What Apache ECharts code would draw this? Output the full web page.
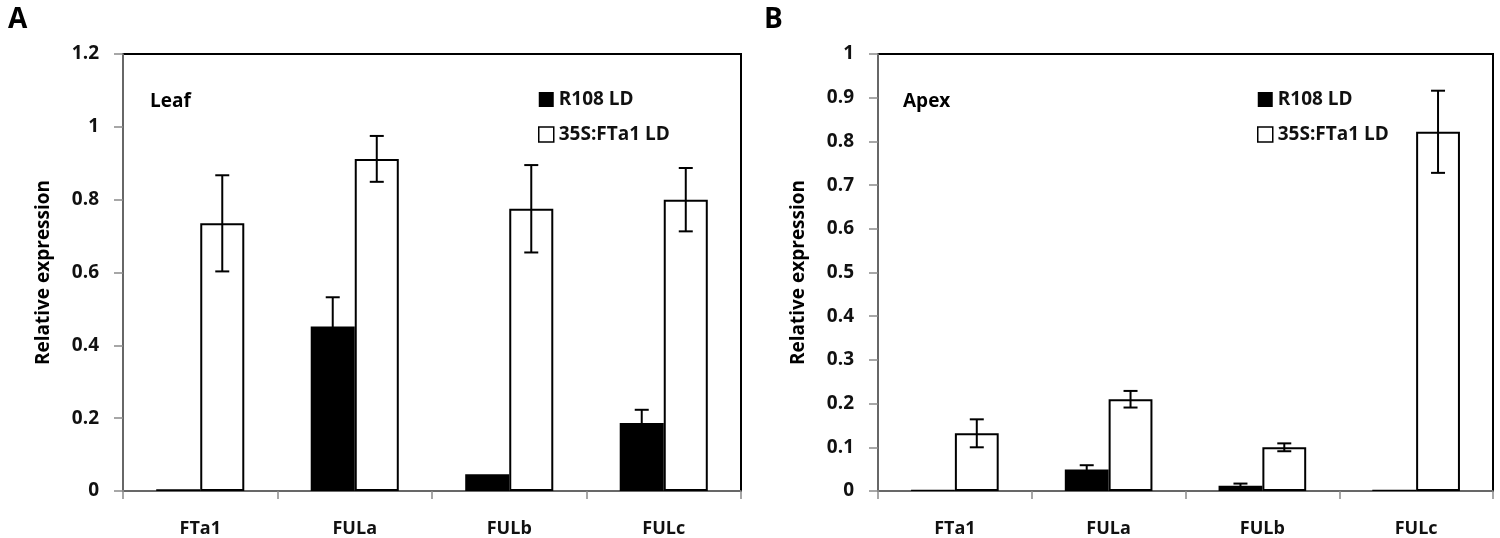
<!DOCTYPE html>
<html>
<head>
<meta charset="utf-8">
<script src="https://cdn.jsdelivr.net/npm/echarts@6/dist/echarts.min.js"></script>
<style>
  html, body { margin: 0; padding: 0; background: #fff; }
  #main { width: 1500px; height: 538px; }
</style>
</head>
<body>
<div id="main"></div>
<script>
// 基因名
var genes = ['FTa1', 'FULa', 'FULb', 'FULc'];
var seriesNames = ['R108 LD', '35S:FTa1 LD'];

// 叶片 A
var leafR108 = [0.005, 0.452, 0.046, 0.187];
var leafR108Err = [0, 0.08, 0, 0.036];
var leaf35S = [0.735, 0.912, 0.775, 0.80];
var leaf35SErr = [0.132, 0.063, 0.12, 0.087];
var leafTicks = [0, 1.2, 0.2];

// 茎尖 B
var apexR108 = [0.003, 0.049, 0.012, 0.003];
var apexR108Err = [0, 0.01, 0.005, 0];
var apex35S = [0.132, 0.21, 0.1, 0.822];
var apex35SErr = [0.032, 0.019, 0.009, 0.094];
var apexTicks = [0, 1, 0.1];

var FONT = 'Open Sans';
var CAT_GAP = 0.43;

function errData(vals, errs){
  var out = [];
  for (var i = 0; i < vals.length; i++){
    out.push([i, vals[i] - errs[i], vals[i] + errs[i], errs[i]]);
  }
  return out;
}

// side: -1 黑柱, +1 白柱
function errRender(side){
  return function(params, api){
    if (!api.value(3)) return null;
    var band = api.size([1, 0])[0];
    var barW = band * (1 - CAT_GAP) / 2;
    var lo = api.coord([api.value(0), api.value(1)]);
    var hi = api.coord([api.value(0), api.value(2)]);
    var x = lo[0] + side * barW / 2;
    var cap = 7;
    var style = { stroke: '#000', lineWidth: 2 };
    return {
      type: 'group',
      children: [
        { type: 'line', shape: { x1: x, y1: lo[1], x2: x, y2: hi[1] }, style: style },
        { type: 'line', shape: { x1: x - cap, y1: hi[1], x2: x + cap, y2: hi[1] }, style: style },
        { type: 'line', shape: { x1: x - cap, y1: lo[1], x2: x + cap, y2: lo[1] }, style: style }
      ]
    };
  };
}

// 只让最上面一条分隔线显示为黑色（图框上边）
function topLineColors(ticks){
  var n = Math.round((ticks[1] - ticks[0]) / ticks[2]) + 1;
  var c = [];
  for (var i = 0; i < n - 1; i++) c.push('rgba(0,0,0,0)');
  c.push('#000');
  return c;
}

function makeX(gi){
  return {
    type: 'category', gridIndex: gi, data: genes, position: 'bottom',
    axisLine: { onZero: false, lineStyle: { color: '#8a8a8a', width: 1.5 } },
    axisTick: { show: true, length: 8, interval: 0, lineStyle: { color: '#8a8a8a', width: 1.5 } },
    axisLabel: { color: '#111', fontFamily: FONT, fontSize: 18, fontWeight: 'bold', margin: 29, interval: 0 }
  };
}

function makeY(gi, ticks){
  return {
    type: 'value', gridIndex: gi, min: ticks[0], max: ticks[1], interval: ticks[2], position: 'left',
    name: 'Relative expression', nameLocation: 'middle', nameGap: 70,
    nameTextStyle: { color: '#000', fontFamily: FONT, fontSize: 19, fontWeight: 'bold' },
    axisLine: { show: true, onZero: false, lineStyle: { color: '#8a8a8a', width: 1.5 } },
    axisTick: { show: true, length: 9, lineStyle: { color: '#8a8a8a', width: 1.5 } },
    axisLabel: { color: '#111', fontFamily: FONT, fontSize: 19, fontWeight: 'bold', margin: 24 },
    splitLine: { show: true, lineStyle: { color: topLineColors(ticks), width: 2 } }
  };
}

function makeSeries(gi, black, blackErr, white, whiteErr){
  return [
    {
      name: seriesNames[0], type: 'bar', xAxisIndex: gi, yAxisIndex: gi,
      data: black, barGap: '0%', barCategoryGap: (CAT_GAP * 100) + '%',
      itemStyle: { color: '#000' }, animation: false
    },
    {
      name: seriesNames[1], type: 'bar', xAxisIndex: gi, yAxisIndex: gi,
      data: white, barGap: '0%', barCategoryGap: (CAT_GAP * 100) + '%',
      itemStyle: { color: '#fff', borderColor: '#000', borderWidth: 2 }, animation: false
    },
    {
      type: 'custom', xAxisIndex: gi, yAxisIndex: gi, z: 5,
      renderItem: errRender(-1), data: errData(black, blackErr), animation: false, silent: true
    },
    {
      type: 'custom', xAxisIndex: gi, yAxisIndex: gi, z: 5,
      renderItem: errRender(1), data: errData(white, whiteErr), animation: false, silent: true
    }
  ];
}

function makeLegend(left){
  return {
    orient: 'vertical', left: left, top: 85, itemWidth: 15, itemHeight: 15, itemGap: 16,
    selectedMode: false,
    textStyle: { color: '#111', fontFamily: FONT, fontSize: 19, fontWeight: 'bold' },
    data: [
      { name: seriesNames[0], icon: 'rect', itemStyle: { color: '#000' } },
      { name: seriesNames[1], icon: 'rect', itemStyle: { color: '#fff', borderColor: '#000', borderWidth: 1.5 } }
    ]
  };
}

var option = {
  animation: false,
  grid: [
    { left: 123, right: 759, top: 54, bottom: 46, show: true, borderColor: '#000', borderWidth: 2 },
    { left: 878, right: 7, top: 54, bottom: 46, show: true, borderColor: '#000', borderWidth: 2 }
  ],
  xAxis: [makeX(0), makeX(1)],
  yAxis: [makeY(0, leafTicks), makeY(1, apexTicks)],
  legend: [makeLegend(533), makeLegend(1252)],
  graphic: [
    { type: 'text', left: 8, top: 6, style: { text: 'A', fontFamily: FONT, fontSize: 28, fontWeight: 'bold', fill: '#000' } },
    { type: 'text', left: 764, top: 6, style: { text: 'B', fontFamily: FONT, fontSize: 28, fontWeight: 'bold', fill: '#000' } },
    { type: 'text', left: 150, top: 92, style: { text: 'Leaf', fontFamily: FONT, fontSize: 19, fontWeight: 'bold', fill: '#000' } },
    { type: 'text', left: 903, top: 92, style: { text: 'Apex', fontFamily: FONT, fontSize: 19, fontWeight: 'bold', fill: '#000' } }
  ],
  series: makeSeries(0, leafR108, leafR108Err, leaf35S, leaf35SErr)
    .concat(makeSeries(1, apexR108, apexR108Err, apex35S, apex35SErr))
};

var chart = echarts.init(document.getElementById('main'));
chart.setOption(option);
window.addEventListener('resize', function(){ chart.resize(); });
</script>
</body>
</html>
